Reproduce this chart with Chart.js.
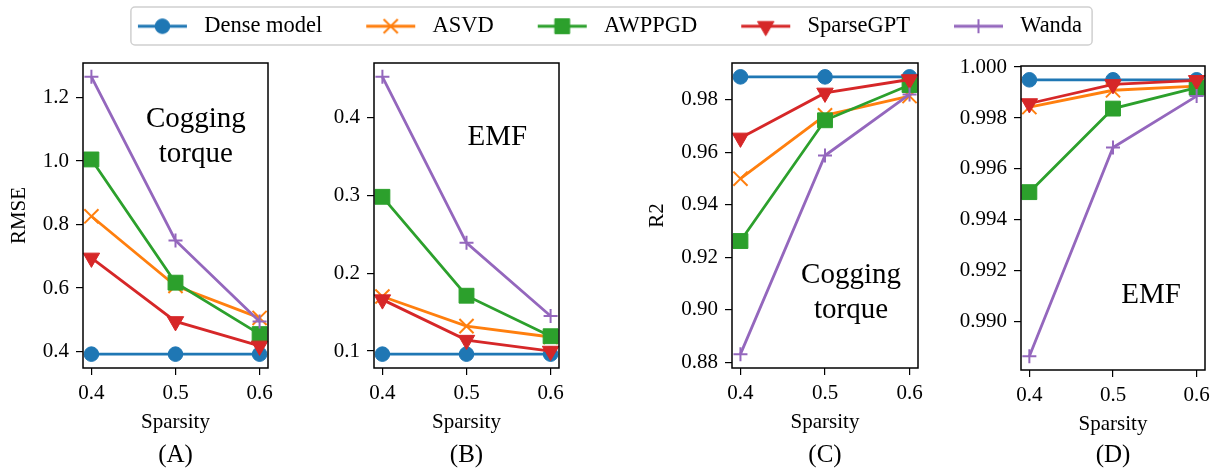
<!DOCTYPE html>
<html>
<head>
<meta charset="utf-8">
<script src="https://cdn.jsdelivr.net/npm/chart.js@4.4.1/dist/chart.umd.min.js"></script>
<style>
  html, body { margin: 0; padding: 0; background: #fff; }
  #page { position: relative; width: 1218px; height: 473px; overflow: hidden; }
  canvas { position: absolute; }
</style>
</head>
<body>
<div id="page">
  <canvas id="legend" width="1218" height="120" style="left:-16px;top:0"></canvas>
  <canvas id="panelA" width="290" height="473" style="left:0;top:0"></canvas>
  <canvas id="panelB" width="280" height="473" style="left:300px;top:0"></canvas>
  <canvas id="panelC" width="300" height="473" style="left:630px;top:0"></canvas>
  <canvas id="panelD" width="283" height="473" style="left:935px;top:0"></canvas>
</div>
<script>
const Chart = window.Chart;
const FONT = "'Liberation Serif', 'DejaVu Serif', serif";
Chart.defaults.font.family = FONT;
Chart.defaults.color = '#000';

// x axis
const sparsity = [0.4, 0.5, 0.6];
const xTicks = ['0.4', '0.5', '0.6'];
const seriesNames = ['Dense model', 'ASVD', 'AWPPGD', 'SparseGPT', 'Wanda'];

// (A) RMSE - cogging torque
const rmseCogDense = [0.392, 0.392, 0.392];
const rmseCogAsvd = [0.826, 0.607, 0.506];
const rmseCogAwppgd = [1.005, 0.617, 0.455];
const rmseCogSparsegpt = [0.695, 0.495, 0.418];
const rmseCogWanda = [1.265, 0.750, 0.495];
const rmseCogTicks = ['0.4', '0.6', '0.8', '1.0', '1.2'];

// (B) RMSE - EMF
const rmseEmfDense = [0.096, 0.096, 0.096];
const rmseEmfAsvd = [0.170, 0.132, 0.118];
const rmseEmfAwppgd = [0.298, 0.171, 0.119];
const rmseEmfSparsegpt = [0.166, 0.114, 0.100];
const rmseEmfWanda = [0.452, 0.239, 0.145];
const rmseEmfTicks = ['0.1', '0.2', '0.3', '0.4'];

// (C) R2 - cogging torque
const r2CogDense = [0.9886, 0.9886, 0.9886];
const r2CogAsvd = [0.9499, 0.9740, 0.9813];
const r2CogAwppgd = [0.9262, 0.9721, 0.9855];
const r2CogSparsegpt = [0.9654, 0.9825, 0.9876];
const r2CogWanda = [0.8832, 0.9587, 0.9819];
const r2CogTicks = ['0.88', '0.90', '0.92', '0.94', '0.96', '0.98'];

// (D) R2 - EMF
const r2EmfDense = [0.9995, 0.9995, 0.9995];
const r2EmfAsvd = [0.99843, 0.99909, 0.99925];
const r2EmfAwppgd = [0.99509, 0.99837, 0.99919];
const r2EmfSparsegpt = [0.99857, 0.99932, 0.99948];
const r2EmfWanda = [0.98865, 0.99684, 0.99886];
const r2EmfTicks = ['0.990', '0.992', '0.994', '0.996', '0.998', '1.000'];

// tab10 colours + matplotlib-like markers
const seriesColors = ['#1f77b4', '#ff7f0e', '#2ca02c', '#d62728', '#9467bd'];
const markers = [
    { pointStyle: 'circle', radius: 7.3, rotation: 0, filled: true },
    { pointStyle: 'crossRot', radius: 10, rotation: 0, filled: false },
    { pointStyle: 'rect', radius: 10.5, rotation: 0, filled: true },
    { pointStyle: 'triangle', radius: 9.5, rotation: 180, filled: true },
    { pointStyle: 'cross', radius: 7, rotation: 0, filled: false }
];

const X_AXIS_H = 67;
const PAGE_H = 473;
const LINE_W = 2.8;

// matplotlib autoscale: data range + 5% margin each side
function autoLimits(values) {
    const lo = Math.min(...values), hi = Math.max(...values);
    const m = (hi - lo) * 0.05;
    return [lo - m, hi + m];
}

/**
 * 축 프레임, 패널 안 주석, (A)~(D) 라벨
 */
const panelDecor = {
    id: 'panelDecor',
    afterDraw(chart, args, o) {
        const { ctx, chartArea: a } = chart;
        const w = a.right - a.left, h = a.bottom - a.top;
        ctx.save();
        ctx.strokeStyle = '#000';
        ctx.lineWidth = 1.5;
        ctx.strokeRect(a.left, a.top, w, h);
        ctx.fillStyle = '#000';
        ctx.textAlign = 'center';
        ctx.textBaseline = 'alphabetic';
        ctx.font = '29px ' + FONT;
        o.note.forEach((line, k) => {
            ctx.fillText(line, a.left + o.noteX * w, a.top + o.noteY[k] * h);
        });
        ctx.font = '25px ' + FONT;
        ctx.textBaseline = 'middle';
        ctx.fillText(o.label, (a.left + a.right) / 2, o.labelY);
        ctx.restore();
    }
};

function makeDatasets(seriesList) {
    return seriesList.map((vals, i) => ({
        label: seriesNames[i],
        data: sparsity.map((x, j) => ({ x: x, y: vals[j] })),
        borderColor: seriesColors[i],
        backgroundColor: seriesColors[i],
        borderWidth: LINE_W,
        pointStyle: markers[i].pointStyle,
        pointRadius: markers[i].radius,
        pointHoverRadius: markers[i].radius,
        pointRotation: markers[i].rotation,
        pointBorderWidth: markers[i].filled ? 1 : 2,
        pointBackgroundColor: seriesColors[i],
        pointBorderColor: seriesColors[i],
        order: seriesList.length - 1 - i,
        clip: false,
        tension: 0
    }));
}

/**
 * 패널 차트 생성
 */
function createPanel(p) {
    const canvas = document.getElementById(p.id);
    const [ymin, ymax] = autoLimits(p.series.flat());
    const [xmin, xmax] = autoLimits(sparsity);
    const yw = p.L - p.canvasX;

    new Chart(canvas.getContext('2d'), {
        type: 'line',
        data: { datasets: makeDatasets(p.series) },
        options: {
            responsive: false,
            animation: false,
            events: [],
            layout: {
                padding: {
                    left: 0,
                    right: canvas.width - (p.R - p.canvasX),
                    top: p.T,
                    bottom: PAGE_H - p.B - X_AXIS_H
                }
            },
            scales: {
                x: {
                    type: 'linear',
                    min: xmin,
                    max: xmax,
                    afterBuildTicks: s => { s.ticks = xTicks.map(t => ({ value: parseFloat(t) })); },
                    afterFit: s => { s.height = X_AXIS_H; s.paddingLeft = 0; s.paddingRight = 0; },
                    ticks: {
                        callback: (v, i) => xTicks[i],
                        font: { size: 21 },
                        color: '#000',
                        padding: 6,
                        maxRotation: 0,
                        autoSkip: false
                    },
                    grid: { display: true, drawOnChartArea: false, drawTicks: true, tickLength: 7, color: '#000', lineWidth: 1.2 },
                    border: { display: false },
                    title: { display: true, text: 'Sparsity', font: { size: 21 }, color: '#000', padding: { top: 0, bottom: 0 } }
                },
                y: {
                    type: 'linear',
                    min: ymin,
                    max: ymax,
                    afterBuildTicks: s => { s.ticks = p.yTicks.map(t => ({ value: parseFloat(t) })); },
                    afterFit: s => { s.width = yw; s.paddingTop = 0; s.paddingBottom = 0; },
                    ticks: {
                        callback: (v, i) => p.yTicks[i],
                        font: { size: 21 },
                        color: '#000',
                        padding: 7,
                        autoSkip: false
                    },
                    grid: { display: true, drawOnChartArea: false, drawTicks: true, tickLength: 7, color: '#000', lineWidth: 1.2 },
                    border: { display: false },
                    title: {
                        display: !!p.yTitle,
                        text: p.yTitle || '',
                        font: { size: 21 },
                        color: '#000',
                        padding: { top: p.yTitlePad || 0, bottom: 0 }
                    }
                }
            },
            plugins: {
                legend: { display: false },
                tooltip: { enabled: false },
                panelDecor: { note: p.note, noteX: p.noteX, noteY: p.noteY, label: p.label, labelY: 455 }
            }
        },
        plugins: [panelDecor]
    });
}

createPanel({
    id: 'panelA', canvasX: 0, L: 83, R: 268, T: 63, B: 368,
    series: [rmseCogDense, rmseCogAsvd, rmseCogAwppgd, rmseCogSparsegpt, rmseCogWanda],
    yTicks: rmseCogTicks, yTitle: 'RMSE', yTitlePad: 7,
    note: ['Cogging', 'torque'], noteX: 0.61, noteY: [0.21, 0.325], label: '(A)'
});
createPanel({
    id: 'panelB', canvasX: 300, L: 374, R: 559, T: 63, B: 368,
    series: [rmseEmfDense, rmseEmfAsvd, rmseEmfAwppgd, rmseEmfSparsegpt, rmseEmfWanda],
    yTicks: rmseEmfTicks,
    note: ['EMF'], noteX: 0.667, noteY: [0.269], label: '(B)'
});
createPanel({
    id: 'panelC', canvasX: 630, L: 732, R: 918, T: 63, B: 368,
    series: [r2CogDense, r2CogAsvd, r2CogAwppgd, r2CogSparsegpt, r2CogWanda],
    yTicks: r2CogTicks, yTitle: 'R2', yTitlePad: 15,
    note: ['Cogging', 'torque'], noteX: 0.64, noteY: [0.72, 0.836], label: '(C)'
});
createPanel({
    id: 'panelD', canvasX: 935, L: 1021, R: 1205, T: 66, B: 370,
    series: [r2EmfDense, r2EmfAsvd, r2EmfAwppgd, r2EmfSparsegpt, r2EmfWanda],
    yTicks: r2EmfTicks,
    note: ['EMF'], noteX: 0.707, noteY: [0.78], label: '(D)'
});

// 범례 아이콘: 선 + 마커 (왼쪽 34px는 항목 간격용 여백)
const ICON_GAP = 34;
const LEGEND_FONT = 22.5;
function legendIcon(i) {
    const c = document.createElement('canvas');
    c.width = ICON_GAP + 55;
    c.height = 24;
    const g = c.getContext('2d');
    g.strokeStyle = seriesColors[i];
    g.fillStyle = seriesColors[i];
    g.lineWidth = LINE_W;
    g.beginPath();
    g.moveTo(ICON_GAP, 12);
    g.lineTo(ICON_GAP + 49, 12);
    g.stroke();
    g.lineWidth = markers[i].filled ? 1 : 2;
    Chart.helpers.drawPoint(g, {
        pointStyle: markers[i].pointStyle,
        radius: markers[i].radius,
        rotation: markers[i].rotation,
        borderWidth: g.lineWidth
    }, ICON_GAP + 24.5, 12);
    return c;
}
const legendIcons = seriesNames.map((n, i) => legendIcon(i));

const legendFrame = {
    id: 'legendFrame',
    afterDraw(chart) {
        const hb = chart.legend.legendHitBoxes;
        if (!hb || !hb.length) return;
        const last = hb[hb.length - 1];
        const left = hb[0].left + ICON_GAP - 7;
        const right = last.left + last.width + 10;
        const ctx = chart.ctx;
        ctx.save();
        ctx.strokeStyle = '#d0d0d0';
        ctx.lineWidth = 1.5;
        ctx.beginPath();
        ctx.roundRect(left, 7, right - left, 38, 4);
        ctx.stroke();
        ctx.restore();
    }
};

new Chart(document.getElementById('legend').getContext('2d'), {
    type: 'line',
    data: {
        datasets: seriesNames.map((n, i) => ({ label: n, data: [], borderColor: seriesColors[i], backgroundColor: seriesColors[i] }))
    },
    options: {
        responsive: false,
        animation: false,
        events: [],
        layout: { padding: { top: 5 } },
        scales: { x: { display: false }, y: { display: false } },
        plugins: {
            tooltip: { enabled: false },
            legend: {
                display: true,
                position: 'top',
                align: 'center',
                labels: {
                    usePointStyle: true,
                    pointStyleWidth: ICON_GAP + 55,
                    boxHeight: LEGEND_FONT,
                    padding: 10,
                    font: { size: LEGEND_FONT },
                    color: '#000',
                    generateLabels: () => seriesNames.map((n, i) => ({
                        text: n,
                        pointStyle: legendIcons[i],
                        fillStyle: seriesColors[i],
                        strokeStyle: seriesColors[i],
                        lineWidth: 0,
                        hidden: false,
                        datasetIndex: i,
                        fontColor: '#000'
                    }))
                }
            }
        }
    },
    plugins: [legendFrame]
});
</script>
</body>
</html>
